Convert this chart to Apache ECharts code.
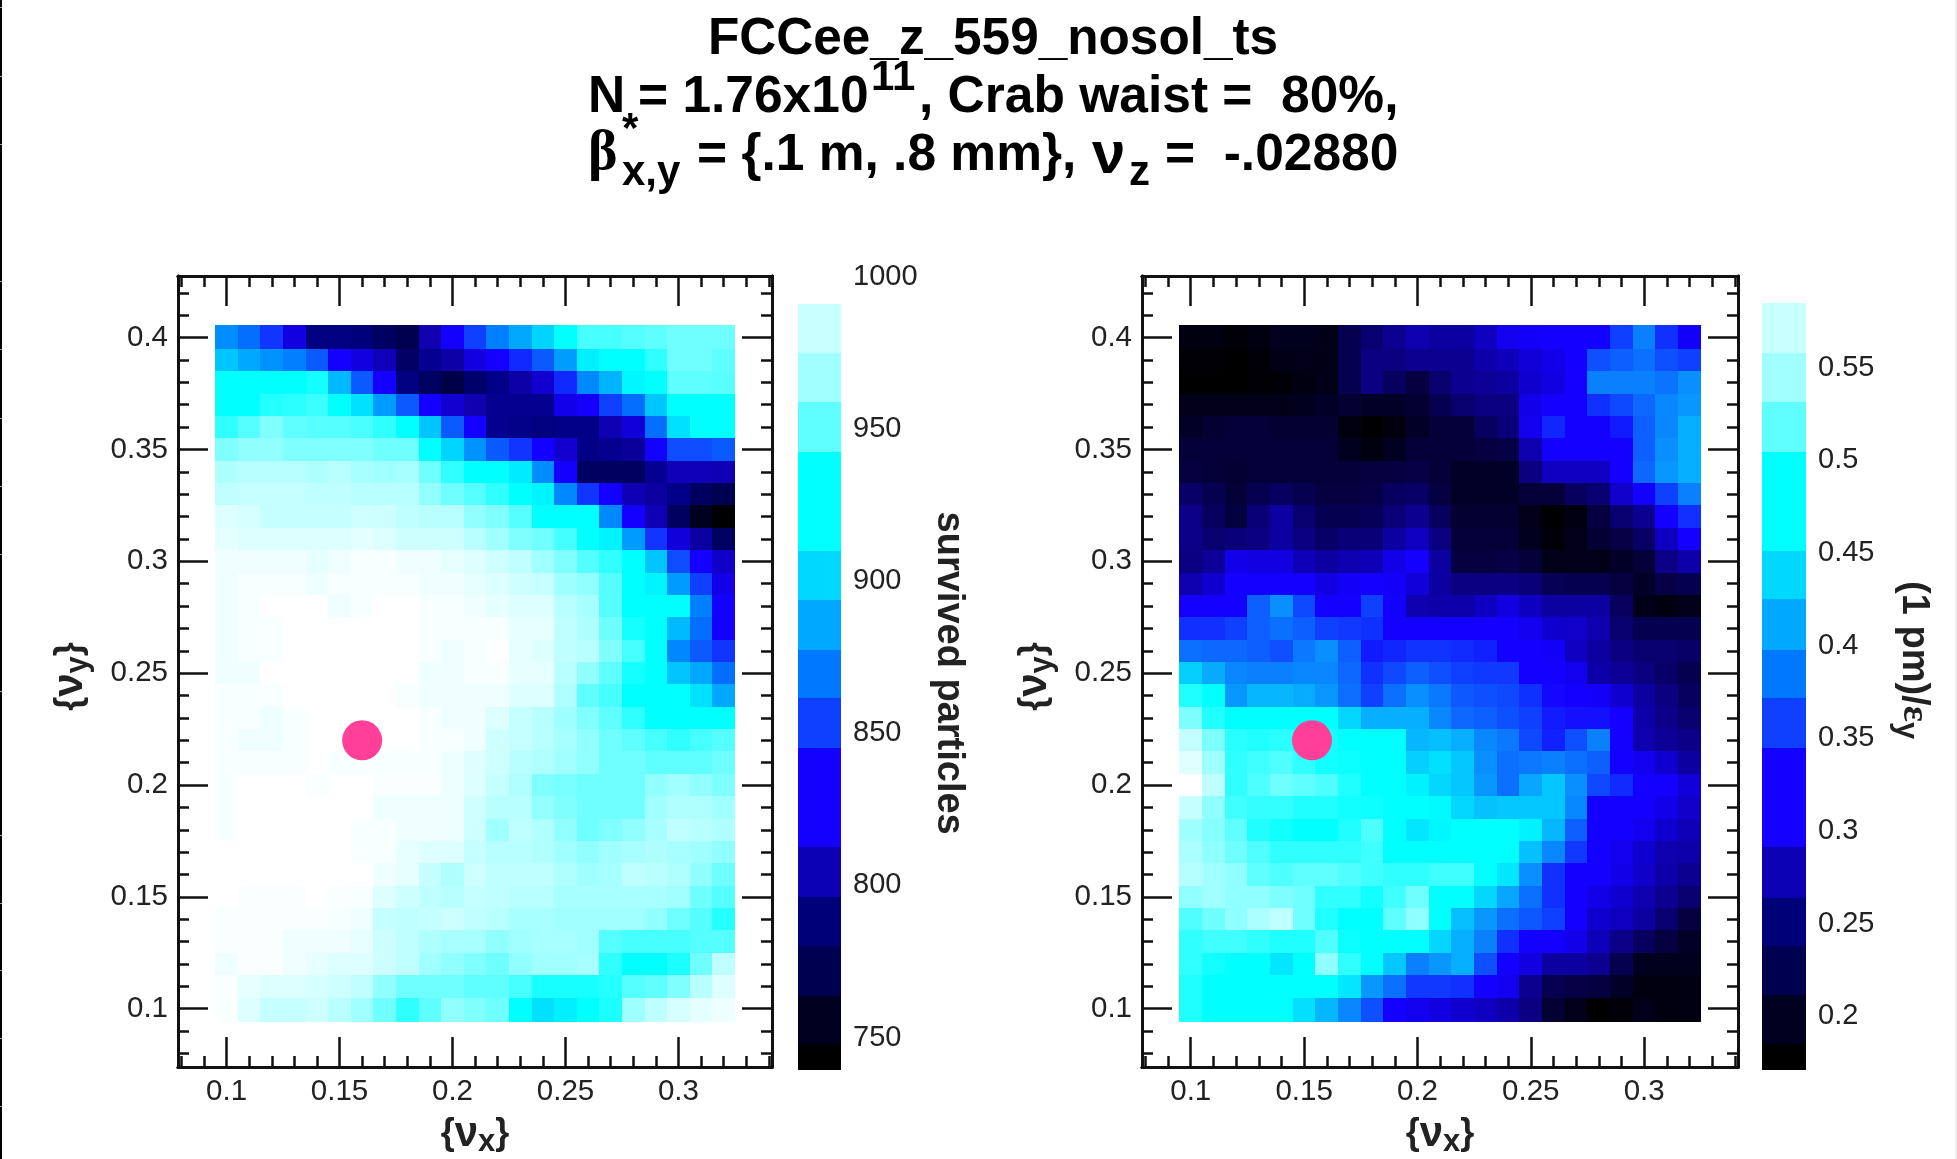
<!DOCTYPE html>
<html><head><meta charset="utf-8">
<style>html,body{margin:0;padding:0;background:#fff}#c{width:1957px;height:1159px}</style>
<script src="https://cdn.jsdelivr.net/npm/echarts@6/dist/echarts.min.js"></script>
</head><body><div id="c"></div>
<script>
const nuXValues = [.10,.11,.12,.13,.14,.15,.16,.17,.18,.19,.20,.21,.22,.23,.24,.25,.26,.27,.28,.29,.30,.31,.32];
const nuYValues = [.40,.39,.38,.37,.36,.35,.34,.33,.32,.31,.30,.29,.28,.27,.26,.25,.24,.23,.22,.21,.20,.19,.18,.17,.16,.15,.14,.13,.12,.11,.10];
const xMajorTicks = [.1,.15,.2,.25,.3];
const yMajorTicks = [.1,.15,.2,.25,.3,.35,.4];
const xMinorTicks = [.08,.09,.11,.12,.13,.14,.16,.17,.18,.19,.21,.22,.23,.24,.26,.27,.28,.29,.31,.32,.33,.34];
const yMinorTicks = [.08,.09,.11,.12,.13,.14,.16,.17,.18,.19,.21,.22,.23,.24,.26,.27,.28,.29,.31,.32,.33,.34,.36,.37,.38,.39,.41,.42];

const survivedRows = [
[870,858,838,820,790,790,788,778,772,805,829,840,865,880,900,925,943,943,947,950,954,954,954],
[893,880,872,865,850,829,820,808,780,795,802,820,829,836,850,876,915,925,925,937,954,954,950],
[925,925,925,925,930,888,850,829,790,778,770,783,792,802,815,836,868,885,920,925,950,950,948],
[925,925,934,936,940,925,905,875,850,829,815,805,795,795,795,822,827,840,858,893,925,925,925],
[937,947,958,950,947,947,944,937,925,893,850,829,795,793,790,792,792,806,818,858,905,925,925],
[958,962,962,958,958,958,958,954,954,925,900,872,850,838,829,815,792,795,798,829,845,845,850],
[969,971,971,971,969,971,967,965,967,954,937,925,925,912,870,829,778,778,778,795,808,808,806],
[973,975,975,975,973,973,971,971,971,962,954,947,937,925,918,868,838,829,806,800,792,778,772],
[982,980,975,975,975,975,978,977,973,971,971,962,958,947,925,925,925,868,829,806,778,760,741],
[985,982,982,982,982,982,985,982,977,977,977,971,965,958,954,943,925,917,875,838,818,800,778],
[988,988,988,988,985,988,991,991,988,988,985,982,977,973,965,958,947,937,925,893,845,829,812],
[988,991,991,991,988,991,991,991,991,988,988,985,982,977,975,965,962,947,925,917,875,840,822],
[988,991,996,996,996,988,991,996,996,991,991,988,985,982,982,971,967,947,925,925,925,865,829],
[988,991,991,996,996,996,996,996,996,991,991,991,991,985,985,973,969,954,930,925,888,858,829],
[988,991,991,996,996,996,996,998,998,991,988,991,996,985,982,973,971,958,943,925,868,850,838],
[988,988,996,996,996,998,998,998,998,988,988,991,991,985,985,971,962,950,930,925,893,880,858],
[991,991,991,996,996,996,996,996,991,988,988,988,988,982,982,969,950,943,925,925,925,905,880],
[991,991,988,991,998,996,996,996,996,991,988,988,982,975,971,965,958,950,937,925,925,925,925],
[991,988,988,991,998,998,998,998,998,991,991,988,977,975,971,967,962,954,950,943,937,943,947],
[991,991,991,991,998,991,991,991,991,991,988,982,977,971,969,965,962,954,954,950,950,950,954],
[991,998,998,998,992,998,998,992,992,992,988,982,975,969,958,956,954,954,954,962,965,962,958],
[991,998,998,998,998,998,998,988,988,988,988,977,971,971,962,958,954,954,954,965,969,969,965],
[991,998,998,998,998,998,991,991,988,988,988,977,965,973,969,962,954,958,962,967,973,971,969],
[998,998,998,998,998,998,991,991,985,982,982,975,971,971,969,965,962,965,967,969,967,965,962],
[998,998,998,998,998,998,996,988,985,975,969,977,973,973,973,969,965,967,973,971,969,962,954],
[998,992,992,992,998,992,991,982,977,973,971,975,973,971,971,967,967,967,967,967,965,954,947],
[992,992,992,992,992,990,988,975,973,975,977,973,971,967,967,965,965,965,965,962,954,947,934],
[992,992,992,988,988,988,985,977,973,969,967,967,962,965,967,967,965,947,943,943,943,947,947],
[988,992,992,988,985,982,982,977,973,965,962,958,954,962,965,965,967,937,925,925,932,954,973],
[992,985,982,982,980,977,973,962,954,954,954,950,950,943,931,931,931,934,947,950,958,971,982],
[992,982,975,975,977,971,965,954,937,950,962,958,954,925,905,915,925,932,965,973,980,985,988]
];
const inverseEmittanceRows = [
[.18,.18,.176,.18,.189,.189,.185,.217,.235,.254,.272,.263,.263,.282,.309,.314,.318,.318,.318,.358,.398,.348,.314],
[.174,.174,.171,.176,.184,.185,.184,.217,.245,.245,.254,.254,.254,.268,.277,.295,.305,.318,.368,.378,.388,.368,.358],
[.171,.171,.171,.174,.176,.18,.185,.217,.245,.226,.208,.235,.254,.258,.263,.291,.3,.318,.398,.398,.398,.39,.408],
[.185,.185,.185,.185,.185,.189,.194,.199,.194,.194,.199,.217,.235,.245,.245,.305,.318,.318,.348,.363,.383,.403,.413],
[.194,.199,.203,.203,.199,.199,.199,.18,.171,.178,.194,.203,.203,.226,.24,.309,.342,.318,.318,.335,.378,.403,.428],
[.203,.203,.203,.203,.203,.203,.203,.189,.18,.189,.203,.203,.203,.208,.212,.272,.318,.318,.318,.318,.378,.408,.428],
[.208,.203,.199,.203,.203,.203,.203,.203,.208,.208,.212,.203,.194,.194,.194,.245,.282,.282,.282,.318,.383,.413,.428],
[.23,.217,.203,.217,.226,.217,.208,.208,.212,.226,.23,.208,.194,.194,.194,.203,.203,.226,.235,.287,.318,.358,.398],
[.249,.226,.208,.24,.263,.235,.217,.217,.221,.24,.254,.226,.199,.199,.199,.185,.171,.18,.208,.235,.254,.318,.348],
[.249,.235,.24,.245,.263,.245,.23,.24,.24,.263,.282,.245,.203,.203,.203,.189,.176,.185,.199,.212,.23,.282,.318],
[.245,.258,.305,.3,.3,.277,.263,.272,.277,.305,.318,.263,.208,.208,.212,.203,.185,.185,.185,.194,.203,.249,.268],
[.272,.291,.318,.318,.318,.318,.3,.314,.318,.314,.296,.263,.245,.245,.245,.24,.221,.217,.217,.208,.194,.212,.217],
[.318,.318,.318,.378,.408,.363,.318,.318,.358,.318,.272,.268,.268,.282,.3,.282,.263,.263,.263,.226,.185,.18,.185],
[.348,.348,.358,.378,.388,.378,.358,.353,.348,.318,.318,.318,.318,.318,.318,.309,.291,.287,.272,.235,.217,.217,.217],
[.388,.383,.383,.378,.368,.393,.408,.378,.335,.342,.35,.35,.345,.338,.318,.318,.314,.282,.263,.245,.235,.235,.23],
[.448,.425,.403,.398,.398,.403,.403,.383,.348,.363,.378,.368,.358,.353,.353,.318,.318,.309,.268,.258,.245,.23,.217],
[.491,.478,.413,.433,.433,.425,.413,.388,.358,.388,.408,.393,.373,.368,.363,.348,.322,.318,.314,.291,.263,.245,.226],
[.531,.491,.478,.478,.478,.478,.478,.453,.428,.428,.428,.403,.383,.378,.368,.358,.335,.328,.328,.318,.268,.249,.235],
[.56,.531,.495,.491,.495,.485,.485,.478,.478,.478,.433,.438,.428,.403,.393,.363,.338,.368,.398,.318,.272,.258,.249],
[.572,.545,.498,.505,.511,.498,.486,.483,.478,.478,.448,.458,.443,.408,.388,.393,.398,.388,.378,.318,.309,.291,.263],
[.585,.558,.498,.511,.525,.518,.511,.491,.478,.478,.47,.453,.443,.413,.388,.423,.443,.408,.363,.345,.318,.318,.296],
[.562,.538,.505,.5,.5,.491,.491,.485,.484,.478,.478,.475,.453,.44,.443,.443,.443,.403,.318,.318,.318,.305,.287],
[.545,.535,.518,.491,.485,.478,.478,.491,.511,.478,.463,.473,.478,.478,.478,.47,.433,.378,.318,.318,.309,.291,.277],
[.55,.538,.525,.511,.498,.498,.498,.498,.505,.478,.478,.478,.478,.478,.478,.438,.403,.353,.318,.309,.291,.272,.268],
[.554,.545,.538,.518,.511,.518,.518,.511,.505,.498,.498,.505,.505,.478,.463,.408,.348,.318,.318,.305,.287,.268,.254],
[.538,.545,.538,.538,.531,.525,.498,.498,.485,.505,.525,.478,.478,.453,.423,.388,.348,.318,.305,.291,.272,.254,.235],
[.511,.525,.538,.55,.558,.525,.491,.478,.478,.518,.538,.478,.438,.413,.388,.373,.358,.318,.291,.282,.263,.235,.208],
[.498,.505,.505,.498,.491,.491,.511,.482,.478,.478,.478,.453,.428,.398,.348,.318,.318,.305,.277,.249,.226,.208,.194],
[.498,.485,.478,.478,.463,.478,.538,.498,.478,.443,.398,.413,.428,.368,.318,.3,.263,.263,.254,.217,.189,.189,.189],
[.491,.478,.478,.478,.478,.478,.478,.463,.413,.388,.353,.353,.348,.318,.309,.254,.217,.212,.208,.194,.18,.18,.18],
[.491,.478,.478,.478,.478,.458,.433,.403,.368,.318,.309,.3,.291,.282,.268,.245,.199,.185,.171,.176,.185,.18,.18]
];
const workingPointLeft = [.16, .22];
const workingPointRight = [.1535, .22];

const survivedStopValues = [740,760,772,790,805,829,840,865,880,905,925,937,950,958,965,973,983,991,996];
const survivedStopColors = ['#000000','#000020','#000050','#000080','#1000b0','#1400ff','#1040ff','#0080ff','#00a8ff','#00e0ff','#00ffff','#30ffff','#60ffff','#80ffff','#a0ffff','#c0ffff','#e0ffff','#f8ffff','#ffffff'];
const emittanceStopValues = [.171,.318,.478,.585];
const emittanceStopColors = ['#000000','#1400ff','#00ffff','#ffffff'];

const bandColors = ['#000000','#000020','#000050','#000078','#0c00b4','#1400ff','#1040ff','#0078ff','#00a8ff','#00d8ff','#00ffff','#60ffff','#a0ffff','#c8ffff'];
const survivedBandEdges = [739.5,747.8,763.6,780,796.2,812.7,845.2,861.5,877.5,893.8,910,942.4,958.7,974.8,991];
const emittanceBandEdges = [.171,.185,.2113,.2378,.264,.2914,.3448,.3719,.3979,.425,.4512,.5046,.5316,.5582,.585];
const survivedBarTicks = [750,800,850,900,950,1000];
const emittanceBarTicks = [.2,.25,.3,.35,.4,.45,.5,.55];
const edgeGapRows = [7,76,144,281,349,418,486,554,691,835,903,970,1038,1106];

function checkRows(rows){ rows.forEach((r,i)=>{ if(r.length!==nuXValues.length) throw new Error('row '+i+' has '+r.length); }); if(rows.length!==nuYValues.length) throw new Error('rows '+rows.length); }
checkRows(survivedRows); checkRows(inverseEmittanceRows);

function hex(c){ return [1,3,5].map(i=>parseInt(c.substr(i,2),16)); }
function colorOf(v, vals, cols){
  if(v<=vals[0]) return cols[0];
  for(let i=1;i<vals.length;i++){
    if(v<=vals[i]){
      const t=(v-vals[i-1])/(vals[i]-vals[i-1]), a=hex(cols[i-1]), b=hex(cols[i]);
      return 'rgb('+a.map((x,k)=>Math.round(x+(b[k]-x)*t)).join(',')+')';
    }
  }
  return cols[cols.length-1];
}
function cells(rows){ const out=[]; rows.forEach((r,j)=>r.forEach((v,i)=>out.push([nuXValues[i],nuYValues[j],v]))); return out; }

const FONT='"Liberation Sans", Arial, sans-serif';
const TICK={fontFamily:FONT,fontSize:29.5,color:'#222'};
const NAME_RICH={
  n:{fontFamily:FONT,fontWeight:'bold',fontSize:42,color:'#222'},
  s:{fontFamily:FONT,fontWeight:'bold',fontSize:31,color:'#222',padding:[16,0,0,0]},
  a:{fontFamily:FONT,fontWeight:'bold',fontSize:36,color:'#222'},
  e:{fontFamily:'"Liberation Serif", serif',fontWeight:'bold',fontSize:38,color:'#222'},
  t:{fontFamily:FONT,fontWeight:'bold',fontSize:38,color:'#222'}
};
const NAME_STYLE={fontFamily:FONT,fontWeight:'bold',fontSize:36,color:'#222',rich:NAME_RICH};
const LINE={lineStyle:{color:'#111',width:3}};

function axisSet(kind, gridIndex, major, minor, min, max, name){
  const positions = kind==='x' ? ['bottom','top'] : ['left','right'];
  const base={type:'value',gridIndex,min,max,position:positions[0],splitLine:{show:false},
    axisLine:{show:true,onZero:false,...LINE},axisLabel:{show:false},axisTick:{show:false}};
  const tick=(values,length,width)=>({show:true,inside:true,length,customValues:values,lineStyle:{color:'#111',width}});
  return [
    {...base,name,nameLocation:'middle',nameGap:kind==='x'?44:84,nameTextStyle:NAME_STYLE,
      axisLabel:{show:true,customValues:major,margin:10,...TICK,formatter:v=>String(+v.toFixed(2))},axisTick:tick(major,30,2.5)},
    {...base,axisTick:tick(minor,11,2.5)},
    {...base,position:positions[1],axisTick:tick(major,30,2.5)},
    {...base,position:positions[1],axisTick:tick(minor,11,2.5)}
  ];
}
const X_MIN=.0785,X_MAX=.3414,Y_MIN=.07395,Y_MAX=.42755;
const NAME_X='{a|{}{n|ν}{s|x}}', NAME_Y='{a|{}{n|ν}{s|y}} ';

const xAxes=[...axisSet('x',0,xMajorTicks,xMinorTicks,X_MIN,X_MAX,NAME_X),...axisSet('x',1,xMajorTicks,xMinorTicks,X_MIN,X_MAX,NAME_X)];
const yAxes=[...axisSet('y',0,yMajorTicks,yMinorTicks,Y_MIN,Y_MAX,NAME_Y),...axisSet('y',1,yMajorTicks,yMinorTicks,Y_MIN,Y_MAX,NAME_Y)];

function barAxes(gridIndex,ticks,min,max,name,gap){
  xAxes.push({type:'value',gridIndex,min:0,max:1,show:false});
  yAxes.push({type:'value',gridIndex,min,max,position:'right',splitLine:{show:false},axisLine:{show:false},
    axisTick:{show:false},name,nameLocation:'middle',nameGap:gap,nameRotate:-90,nameTextStyle:NAME_STYLE,
    axisLabel:{show:true,customValues:ticks,margin:12,...TICK,fontSize:29,padding:[3,0,0,0],formatter:v=>String(+v.toFixed(2))}});
}
barAxes(2,survivedBarTicks,739.5,1000,'{t|survived particles}',88);
barAxes(3,emittanceBarTicks,.171,.585,'{t|(1 pm)/}{e|ε}{s|y}{t|     }',84);

function heatSeries(rows,axisBase,vals,cols){
  const topY=nuYValues[0], bottomY=nuYValues[nuYValues.length-1];
  return {type:'custom',xAxisIndex:axisBase,yAxisIndex:axisBase,data:cells(rows),clip:false,silent:true,
    encode:{x:0,y:1},
    renderItem(p,api){
      const x=api.value(0),y=api.value(1),v=api.value(2);
      const up=y===topY?.0055:.005, down=y===bottomY?.0058:.005;
      const a=api.coord([x-.005,y+up]),b=api.coord([x+.005,y-down]);
      const L=Math.round(a[0]),T=Math.round(a[1]),R=Math.round(b[0]),B=Math.round(b[1]);
      return {type:'rect',shape:{x:L,y:T,width:R-L,height:B-T},style:{fill:colorOf(v,vals,cols)}};
    }};
}
function barSeries(edges,axisIdx){
  return {type:'custom',xAxisIndex:axisIdx,yAxisIndex:axisIdx,silent:true,clip:false,
    data:bandColors.map((c,i)=>[edges[i],edges[i+1],i]),
    encode:{y:[0,1]},
    renderItem(p,api){
      const a=api.coord([0,api.value(1)]),b=api.coord([1,api.value(0)]);
      const T=Math.round(a[1]),B=Math.round(b[1]);
      return {type:'rect',shape:{x:a[0],y:T,width:b[0]-a[0],height:B-T},style:{fill:bandColors[api.value(2)]}};
    }};
}
function pointSeries(pt,axisBase){
  return {type:'scatter',xAxisIndex:axisBase,yAxisIndex:axisBase,data:[pt],symbolSize:40,z:5,silent:true,
    itemStyle:{color:'#ff3f98',opacity:1}};
}
function T(x,y,text,opt){
  return {type:'text',x,y,silent:true,style:Object.assign({text,fill:'#000',textAlign:'left',textVerticalAlign:'bottom',
    font:'bold 51.5px "Liberation Sans"'},opt||{})};
}
const greek='bold 56px "Liberation Serif"', sub='bold 42px "Liberation Sans"';
const graphicEls=[
  T(588,124,'N'),
  T(638,124,'= 1.76x10'),
  T(871,99,'11',{font:'bold 42px "Liberation Sans"'}),
  T(919,124,', Crab waist =  80%,'),
  T(588,183,'β',{font:greek}),
  T(622,151,'*',{font:sub}),
  T(622,194,'x,y',{font:sub}),
  T(697,182,'= {.1 m, .8 mm},'),
  T(1092,186,'ν',{font:'bold 60px "Liberation Sans"'}),
  T(1129,194,'z',{font:sub}),
  T(1165,182,'=  -.02880'),
  {type:'rect',shape:{x:0,y:0,width:2,height:1159},style:{fill:'#000'},silent:true},
  {type:'rect',shape:{x:1955,y:0,width:2,height:1159},style:{fill:'#eeeeee'},silent:true},
  ...edgeGapRows.map(y=>({type:'rect',shape:{x:0,y,width:2,height:1},style:{fill:'#999'},silent:true,z:2}))
];

const option={
  animation:false,backgroundColor:'#fff',
  title:{text:'FCCee_z_559_nosol_ts',left:988,top:9,textAlign:'center',textStyle:{fontFamily:FONT,fontWeight:'bold',fontSize:51.3,color:'#000'}},
  grid:[
    {left:178,top:276,width:594,height:791,outerBoundsMode:'none'},
    {left:1142,top:276,width:596,height:791,outerBoundsMode:'none'},
    {left:798,top:276.7,width:43,height:792.9,outerBoundsMode:'none'},
    {left:1762,top:303,width:44,height:767,outerBoundsMode:'none'}
  ],
  xAxis:xAxes,yAxis:yAxes,
  series:[
    heatSeries(survivedRows,0,survivedStopValues,survivedStopColors),
    heatSeries(inverseEmittanceRows,4,emittanceStopValues,emittanceStopColors),
    pointSeries(workingPointLeft,0),
    pointSeries(workingPointRight,4),
    barSeries(survivedBandEdges,8),
    barSeries(emittanceBandEdges,9)
  ],
  graphic:{elements:graphicEls}
};
echarts.init(document.getElementById('c'),null,{renderer:'canvas'}).setOption(option);
</script></body></html>
